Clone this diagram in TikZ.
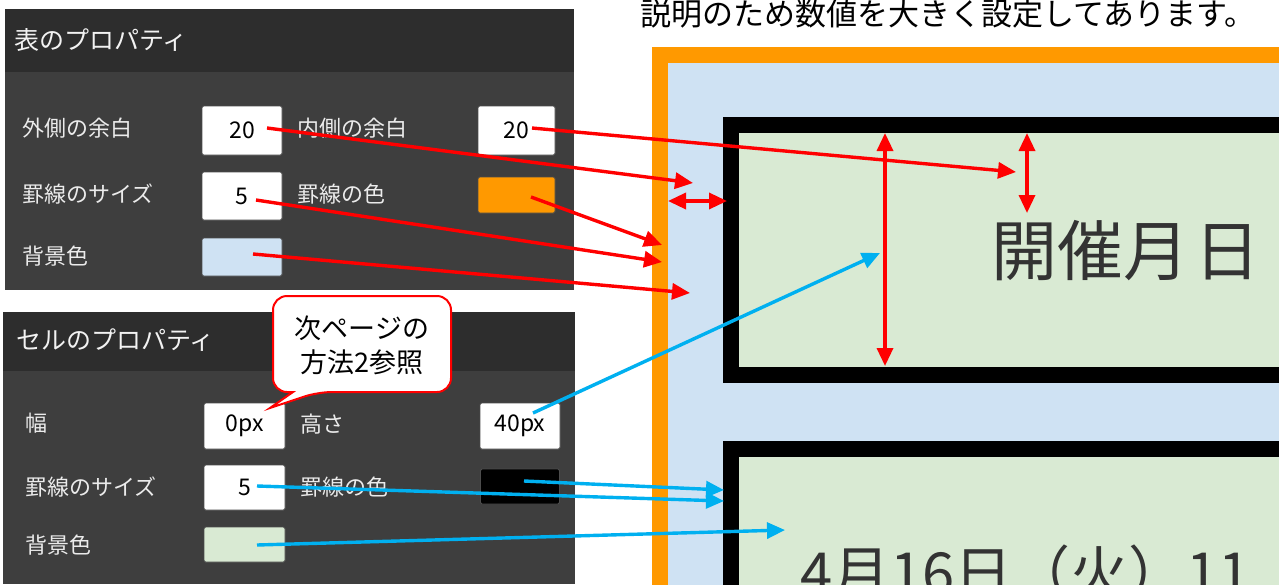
\documentclass[tikz,border=0pt]{standalone}
\usepackage{fontspec}
\setmainfont{Noto Sans CJK JP}
\usetikzlibrary{arrows.meta}
\definecolor{hdr}{HTML}{2D2D2D}
\definecolor{panelbody}{HTML}{3E3E3E}
\definecolor{lblue}{HTML}{CFE2F3}
\definecolor{lgreen}{HTML}{D9EAD3}
\definecolor{orng}{HTML}{FF9900}
\definecolor{cyanline}{HTML}{00B0F0}
\definecolor{redline}{HTML}{FF0000}
\begin{document}
\begin{tikzpicture}[x=1pt,y=-1pt,
  lbl/.style={anchor=west, text=white!92!black, font=\fontsize{22}{22}\selectfont, inner sep=0},
  ttl/.style={anchor=west, text=white!95!black, font=\fontsize{25}{25}\selectfont, inner sep=0},
  fld/.style={draw=black!70, rounded corners=1.5pt, line width=0.8pt, fill=white, inner sep=0,
              font=\fontsize{23}{23}\selectfont, minimum width=80pt},
  redarr/.style={draw=redline, line width=3.4pt, -{Triangle[length=18pt,width=16pt]}},
  redboth/.style={draw=redline, line width=3.4pt, {Triangle[length=18pt,width=16pt]}-{Triangle[length=18pt,width=16pt]}},
  bluearr/.style={draw=cyanline, line width=3.4pt, -{Triangle[length=18pt,width=16pt]}},
  bigtxt/.style={text=black!80, inner sep=0}
]
\useasboundingbox (0,0) rectangle (1279,584);
\fill[white] (0,0) rectangle (1279,584);

% ---------- top panel ----------
\fill[panelbody] (5,9) rectangle (574,290);
\fill[hdr] (5,9) rectangle (574,72);
\node[ttl] (t1) at (14,40) {表のプロパティ};
\node[lbl] (l11) at (22,128) {外側の余白};
\node[lbl] (l12) at (22,194) {罫線のサイズ};
\node[lbl] (l13) at (22,256) {背景色};
\node[lbl] (l14) at (297,128) {内側の余白};
\node[lbl] (l15) at (297,194) {罫線の色};
\node[fld, minimum height=49pt] (outer) at (242,130.5) {20};
\node[fld, minimum height=48pt] (bsize) at (242,196) {5};
\node[fld, minimum height=38pt, fill=lblue] (bgc) at (242,257) {};
\node[fld, minimum height=49pt, minimum width=77pt] (inner) at (516.5,130.5) {20};
\node[fld, minimum height=36pt, minimum width=77pt, fill=orng] (bcol) at (516.5,195) {};

% ---------- bottom panel ----------
\fill[panelbody] (3,312) rectangle (575,584);
\fill[hdr] (3,312) rectangle (575,371);
\node[ttl] (t2) at (16,340) {セルのプロパティ};
\node[lbl] (l21) at (25,423) {幅};
\node[lbl] (l22) at (25,487) {罫線のサイズ};
\node[lbl] (l23) at (25,545) {背景色};
\node[lbl] (l24) at (300,424) {高さ};
\node[lbl] (l25) at (300,487) {罫線の色};
\node[fld, minimum height=46pt, minimum width=81pt] (wid) at (244.5,426) {0px};
\node[fld, minimum height=46pt] (hgt) at (520,426) {40px};
\node[fld, minimum height=45pt, minimum width=81pt] (csize) at (244.5,487.5) {5};
\node[fld, minimum height=35pt, minimum width=79pt, fill=black] (ccol) at (520,486.5) {};
\node[fld, minimum height=35pt, minimum width=81pt, fill=lgreen] (cbg) at (244.5,544.5) {};

% ---------- right: table preview ----------
\begin{scope}
\clip (0,0) rectangle (1279,584);
\fill[orng] (652,47) rectangle (1300,600);
\fill[lblue] (668,63) rectangle (1300,600);
\fill[black] (723,117) rectangle (1300,383);
\fill[lgreen] (739,133) rectangle (1300,367);
\fill[black] (723,441) rectangle (1300,600);
\fill[lgreen] (739,457) rectangle (1300,600);
\node[bigtxt, font=\fontsize{66}{66}\selectfont, anchor=base] (kaisai) at (1126,275) {開催月\kern6pt 日};
\node[bigtxt, font=\fontsize{58}{58}\selectfont, anchor=base west] (date) at (800,594) {4月16日（火）11};
\end{scope}
\node[inner sep=0, font=\fontsize{31}{31}\selectfont, anchor=base] (title) at (948,25.5) {説明のため数値を大きく設定してあります。};

% ---------- arrow coordinates ----------
\coordinate (sOuter) at (267,128);
\coordinate (eOuter) at (693,183);
\coordinate (sInner) at (532,128);
\coordinate (eInner) at (1016,172);
\coordinate (sBcol) at (531,197);
\coordinate (eBcol) at (662,245);
\coordinate (sBsize) at (256,200);
\coordinate (eBsize) at (662,262);
\coordinate (sBg) at (253,254);
\coordinate (eBg) at (690,293);
\coordinate (hL) at (668,201);
\coordinate (hR) at (727,201);
\coordinate (vT) at (1027,133);
\coordinate (vB) at (1027,213);
\coordinate (lT) at (885,133);
\coordinate (lB) at (885,366);
\coordinate (sHgt) at (533,413);
\coordinate (eHgt) at (880,253);
\coordinate (sCcol) at (524,481);
\coordinate (eCcol) at (724,490);
\coordinate (sCsize) at (257,486);
\coordinate (eCsize) at (724,501);
\coordinate (sCbg) at (257,545);
\coordinate (eCbg) at (785,530);

% ---------- red arrows ----------
\draw[redarr] (sOuter) -- (eOuter);
\draw[redarr] (sInner) -- (eInner);
\draw[redarr] (sBcol) -- (eBcol);
\draw[redarr] (sBsize) -- (eBsize);
\draw[redarr] (sBg) -- (eBg);
\draw[redboth] (hL) -- (hR);
\draw[redboth] (vT) -- (vB);
\draw[redboth] (lT) -- (lB);

% ---------- blue arrows ----------
\draw[bluearr] (sHgt) -- (eHgt);
\draw[bluearr] (sCcol) -- (eCcol);
\draw[bluearr] (sCsize) -- (eCsize);
\draw[bluearr] (sCbg) -- (eCbg);

% ---------- callout ----------
\draw[fill=white, draw=redline, line width=2pt, rounded corners=14pt]
  (273,344) |- (451,296) |- (318,392) [sharp corners] -- (270,408) -- (293,392) [rounded corners=14pt] -| cycle;
\node[inner sep=0, align=center, font=\fontsize{27}{34}\selectfont] (note) at (362,345) {次ページの\\方法2参照};
\end{tikzpicture}
\end{document}
